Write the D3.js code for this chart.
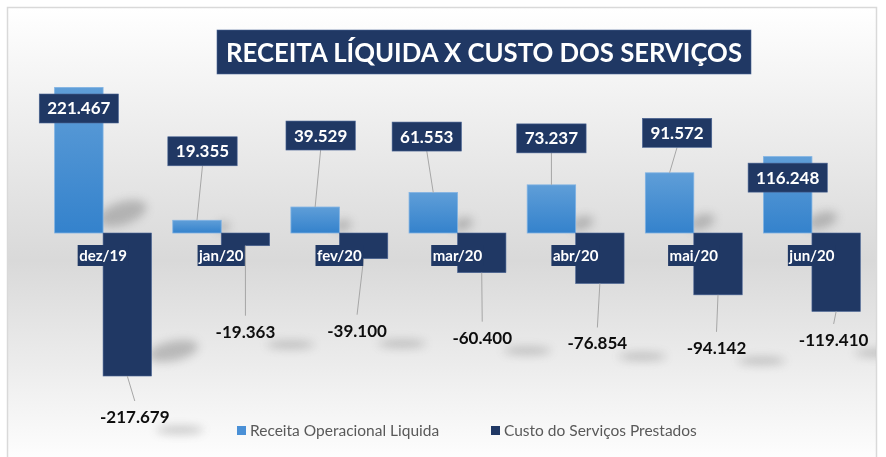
<!DOCTYPE html>
<html>
<head>
<meta charset="utf-8">
<script src="https://cdn.jsdelivr.net/npm/d3@7"></script>
<style>
  html, body { margin: 0; padding: 0; background: #fff; }
  svg { display: block; font-family: Lato, 'Open Sans', sans-serif; }
</style>
</head>
<body>
<svg id="chart" width="886" height="457"></svg>
<script>
/* Receita Líquida x Custo dos Serviços — paired bars around zero */

const categories = ['dez/19', 'jan/20', 'fev/20', 'mar/20', 'abr/20', 'mai/20', 'jun/20'];
const receita = [221.467, 19.355, 39.529, 61.553, 73.237, 91.572, 116.248];
const custo = [-217.679, -19.363, -39.100, -60.400, -76.854, -94.142, -119.410];
const seriesNames = ['Receita Operacional Liquida', 'Custo do Serviços Prestados'];
const title = 'RECEITA LÍQUIDA X CUSTO DOS SERVIÇOS';

// label placement, hand-dragged in the original (offsets from bar end)
const recOffset = [[0, 21], [5.5, -69], [5.5, -71.5], [-6.5, -56], [0, -46.5], [7.5, -40], [0, 21]];
const cusOffset = [[7.5, 41], [0, 86], [-6.5, 72], [0.5, 65], [-2.5, 60], [-1.5, 53], [-2.5, 28.5]];

const NAVY = '#203864';
const fmt = v => v.toFixed(3);   // pt-BR thousands dot, values already in thousands

const svg = d3.select('#chart');
const defs = svg.append('defs');

// background gradient
const bg = defs.append('linearGradient').attr('id', 'bgGrad')
  .attr('x1', 0).attr('y1', 0).attr('x2', 0).attr('y2', 1);
bg.append('stop').attr('offset', '0%').attr('stop-color', '#ffffff');
bg.append('stop').attr('offset', '55%').attr('stop-color', '#d9d9d9');
bg.append('stop').attr('offset', '100%').attr('stop-color', '#ffffff');

const barGrad = defs.append('linearGradient').attr('id', 'recGrad')
  .attr('x1', 0).attr('y1', 0).attr('x2', 0).attr('y2', 1);
barGrad.append('stop').attr('offset', '0%').attr('stop-color', '#5f9ed8');
barGrad.append('stop').attr('offset', '100%').attr('stop-color', '#3482cc');

const blur = defs.append('filter').attr('id', 'shadowBlur')
  .attr('x', '-50%').attr('y', '-50%').attr('width', '200%').attr('height', '200%');
blur.append('feGaussianBlur').attr('stdDeviation', 5);

defs.append('clipPath').attr('id', 'frameClip')
  .append('rect').attr('x', 8).attr('y', 8).attr('width', 868).attr('height', 460);

svg.append('rect')
  .attr('x', 7.5).attr('y', 7.5).attr('width', 869).attr('height', 460)
  .attr('fill', 'url(#bgGrad)').attr('stroke', '#d9d9d9').attr('stroke-width', 1.5);

// ---- Scales ----
const x = d3.scaleBand().domain(categories).range([44, 871])
  .paddingInner(0.18).paddingOuter(0.09);
const xs = d3.scaleBand().domain(seriesNames).range([0, x.bandwidth()]);
const y = d3.scaleLinear().domain([-250, 250]).range([397.25, 68.75]);
const y0 = y(0);
const bw = xs.bandwidth();

const rows = categories.map((c, i) => ({ c, i, rec: receita[i], cus: custo[i] }));

// ---- Shadows ----
const sh = svg.append('g').attr('clip-path', 'url(#frameClip)')
  .append('g').attr('filter', 'url(#shadowBlur)').attr('fill', '#6f6f6f').attr('opacity', 0.4);
rows.forEach(d => {
  const hr = y0 - y(d.rec);
  const rx0 = x(d.c) + xs(seriesNames[0]) + bw;
  const scx = rx0 + 0.13 * hr, scy = y0 - 0.1 * hr - 5;
  sh.append('ellipse')
    .attr('cx', scx).attr('cy', scy)
    .attr('rx', 0.14 * hr + 5).attr('ry', 0.05 * hr + 4)
    .attr('transform', `rotate(-18 ${scx} ${scy})`);
  const hc = y(d.cus) - y0;
  if (hc > 100) {
    const cx0 = x(d.c) + xs(seriesNames[1]) + bw;
    const ccx = cx0 + 0.15 * hc, ccy = y(d.cus) - 0.14 * hc - 5;
    sh.append('ellipse')
      .attr('cx', ccx).attr('cy', ccy)
      .attr('rx', 0.15 * hc + 4).attr('ry', 0.04 * hc + 4)
      .attr('transform', `rotate(-12 ${ccx} ${ccy})`);
  }
  // label shadows
  const lx = x(d.c) + xs(seriesNames[1]) + bw / 2 + cusOffset[d.i][0];
  const ly = y(d.cus) + cusOffset[d.i][1];
  sh.append('ellipse').attr('cx', lx + 45).attr('cy', ly + 13).attr('rx', 24).attr('ry', 3.5);
});

// ---- Bars ----
svg.append('g').selectAll('rect').data(rows).join('rect')
  .attr('x', d => x(d.c) + xs(seriesNames[0]))
  .attr('y', d => y(d.rec))
  .attr('width', bw)
  .attr('height', d => y0 - y(d.rec))
  .attr('fill', 'url(#recGrad)')
  .attr('stroke', '#7fb2e3').attr('stroke-width', 0.8);

svg.append('g').selectAll('rect').data(rows).join('rect')
  .attr('x', d => x(d.c) + xs(seriesNames[1]))
  .attr('y', y0)
  .attr('width', bw)
  .attr('height', d => y(d.cus) - y0)
  .attr('fill', NAVY)
  .attr('stroke', '#4a6494').attr('stroke-width', 0.6);

// ---- Leader lines + labels ----
const lines = svg.append('g').attr('stroke', '#a6a6a6').attr('stroke-width', 1);
const lab = svg.append('g');

rows.forEach(d => {
  // positive labels: navy boxes
  const bx = x(d.c) + xs(seriesNames[0]) + bw / 2;
  const by = y(d.rec);
  const lx = bx + recOffset[d.i][0];
  const ly = by + recOffset[d.i][1];
  const bh = 29;
  if (ly + bh / 2 < by - 3) {
    lines.append('line').attr('x1', lx).attr('y1', ly + bh / 2).attr('x2', bx).attr('y2', by);
  }
  const t = lab.append('text')
    .attr('x', lx).attr('y', ly + 6)
    .attr('text-anchor', 'middle')
    .attr('font-size', 17).attr('font-weight', 700).attr('fill', '#fff')
    .text(fmt(d.rec));
  const w = t.node().getComputedTextLength() + 16;
  lab.insert('rect', 'text:last-child')
    .attr('x', lx - w / 2).attr('y', ly - bh / 2).attr('width', w).attr('height', bh)
    .attr('fill', NAVY).attr('stroke', '#4a6494').attr('stroke-width', 0.6);

  // negative labels: plain black text
  const cx = x(d.c) + xs(seriesNames[1]) + bw / 2;
  const cy = y(d.cus);
  const nx = cx + cusOffset[d.i][0];
  const ny = cy + cusOffset[d.i][1];
  if (ny - 16 > cy + 3) {
    lines.append('line').attr('x1', cx).attr('y1', cy).attr('x2', nx).attr('y2', ny - 16);
  }
  lab.append('text')
    .attr('x', nx).attr('y', ny + 6)
    .attr('text-anchor', 'middle')
    .attr('font-size', 17).attr('font-weight', 700).attr('fill', '#0d0d0d')
    .text(fmt(d.cus));
});

// ---- Category axis labels (boxed) ----
const cat = svg.append('g');
categories.forEach(c => {
  const cx = x(c) + x.bandwidth() / 2;
  const t = cat.append('text')
    .attr('x', cx).attr('y', 261)
    .attr('text-anchor', 'middle')
    .attr('font-size', 15).attr('font-weight', 700).attr('fill', '#fff')
    .text(c);
  const w = t.node().getComputedTextLength() + 3;
  cat.insert('rect', 'text:last-child')
    .attr('x', cx - w / 2).attr('y', 245).attr('width', w).attr('height', 21)
    .attr('fill', NAVY);
});

// ---- Title ----
const tg = svg.append('g');
tg.append('rect').attr('x', 217).attr('y', 30).attr('width', 534).attr('height', 44)
  .attr('fill', NAVY).attr('stroke', '#4a6494').attr('stroke-width', 0.6);
const tt = tg.append('text').attr('x', 484).attr('y', 62)
  .attr('text-anchor', 'middle').attr('font-size', 27).attr('font-weight', 700)
  .attr('fill', '#fff').text(title);
const tw = tt.node().getComputedTextLength();
if (tw > 516) tt.attr('textLength', 516).attr('lengthAdjust', 'spacingAndGlyphs');

// ---- Legend ----
const legendX = [237, 491];
const colors = ['#4a90d6', NAVY];
const lg = svg.append('g');
seriesNames.forEach((s, i) => {
  lg.append('rect').attr('x', legendX[i]).attr('y', 426).attr('width', 9).attr('height', 9)
    .attr('fill', colors[i]);
  lg.append('text').attr('x', legendX[i] + 13).attr('y', 436)
    .attr('font-size', 15.5).attr('fill', '#595959').text(s);
});
</script>
</body>
</html>
